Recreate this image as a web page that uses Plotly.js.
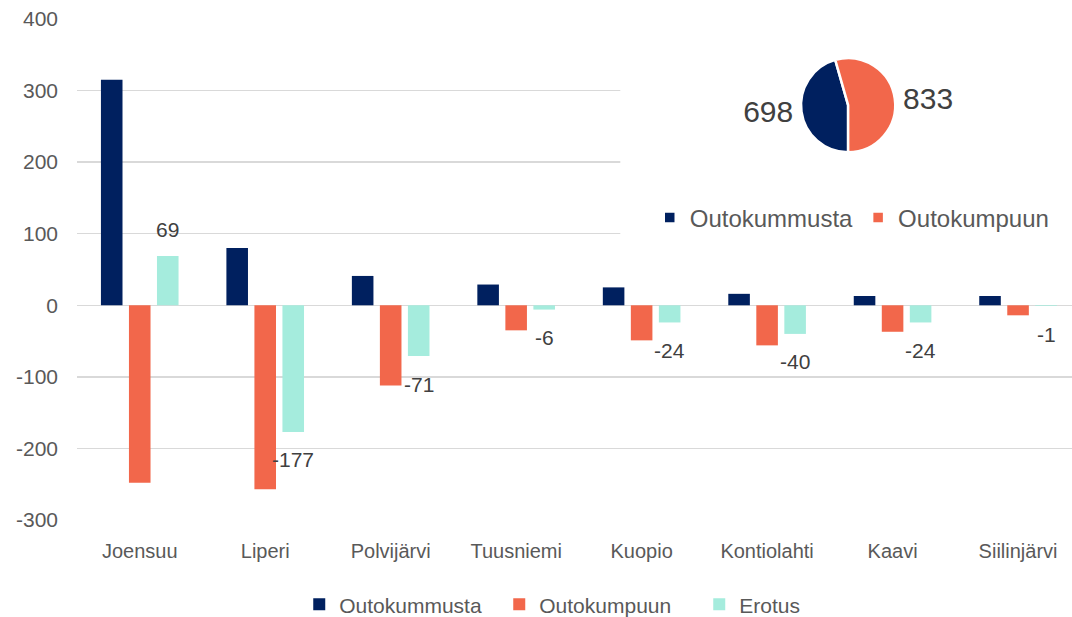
<!DOCTYPE html>
<html>
<head>
<meta charset="utf-8">
<script src="https://cdn.plot.ly/plotly-3.0.1.min.js"></script>
<style>html,body{margin:0;padding:0;background:#fff;}#chart{width:1072px;height:617px;}</style>
</head>
<body>
<div id="chart"></div>
<script>
const categories = ["Joensuu","Liperi","Polvijärvi","Tuusniemi","Kuopio","Kontiolahti","Kaavi","Siilinjärvi"];
const outokummusta = [315, 80, 41, 29, 25, 16, 13, 13];
const outokumpuun = [-248, -257, -112, -35, -49, -56, -37, -14];
const erotus = [69, -177, -71, -6, -24, -40, -24, -1];
const pieLabels = ["Outokummusta", "Outokumpuun"];
const pieValues = [698, 833];
const yTicks = [-300, -200, -100, 0, 100, 200, 300, 400];

const NAVY = "#00205F", ORANGE = "#F2674B", MINT = "#A5ECDD";
const FONT = "Liberation Sans, Arial, sans-serif";

const traces = [
  {type:"bar", name:"Outokummusta", x:categories, y:outokummusta, marker:{color:NAVY}, legend:"legend", hoverinfo:"y"},
  {type:"bar", name:"Outokumpuun", x:categories, y:outokumpuun, marker:{color:ORANGE}, legend:"legend", hoverinfo:"y"},
  {type:"bar", name:"Erotus", x:categories, y:erotus, marker:{color:MINT}, legend:"legend", hoverinfo:"y"},
  {type:"pie", labels:pieLabels, values:pieValues, sort:false, direction:"clockwise", rotation:180,
   marker:{colors:[NAVY, ORANGE], line:{color:"#fff", width:2.5}},
   textinfo:"value", textposition:"outside", textfont:{family:FONT, size:30, color:"#404040"},
   domain:{x:[0.64, 0.91], y:[0.734, 0.922]}, legend:"legend2", showlegend:true, hoverinfo:"label+value"}
];

// data labels for the Erotus series, placed beyond the bar end
const labelAnnotations = categories.map((c, i) => ({
  x:c, y:erotus[i], xref:"x", yref:"y", text:String(erotus[i]), showarrow:false,
  xshift:28, yshift:erotus[i] >= 0 ? 26 : -28, xanchor:"center", yanchor:"middle",
  font:{family:FONT, size:21, color:"#404040"}
}));

const layout = {
  width:1072, height:617,
  margin:{l:77, r:0, t:19, b:97, autoexpand:false},
  paper_bgcolor:"#fff", plot_bgcolor:"#fff",
  font:{family:FONT, color:"#595959"},
  barmode:"group", bargap:0.33, bargroupgap:0.23,
  xaxis:{range:[-0.5, 7.43], showgrid:false, zeroline:false, showline:false, ticks:"",
         tickfont:{family:FONT, size:20, color:"#595959"}, ticklabelstandoff:17, fixedrange:true},
  yaxis:{range:[-300, 400], tickvals:yTicks, ticktext:yTicks.map(String), showgrid:true, gridcolor:"#D9D9D9", gridwidth:1.5,
         zeroline:true, zerolinecolor:"#D9D9D9", zerolinewidth:1.5, showline:false, ticks:"",
         tickfont:{family:FONT, size:21, color:"#595959"}, ticklabelstandoff:18, fixedrange:true},
  shapes:[{type:"rect", xref:"x", yref:"y", x0:3.83, x1:7.5, y0:84, y1:420,
           fillcolor:"#fff", line:{width:0}, layer:"between"}],
  annotations:labelAnnotations,
  legend:{orientation:"h", xref:"container", yref:"container", x:0.559, xanchor:"center", y:0.02, yanchor:"middle",
          font:{family:FONT, size:21, color:"#595959"}, itemwidth:30, entrywidth:155, traceorder:"normal", bgcolor:"rgba(0,0,0,0)"},
  legend2:{orientation:"h", xref:"container", yref:"container", x:0.795, xanchor:"center", y:0.647, yanchor:"middle",
          font:{family:FONT, size:24, color:"#595959"}, itemwidth:30, bgcolor:"rgba(0,0,0,0)"},
  showlegend:true
};

Plotly.newPlot("chart", traces, layout, {displayModeBar:false, staticPlot:true});
</script>
</body>
</html>
